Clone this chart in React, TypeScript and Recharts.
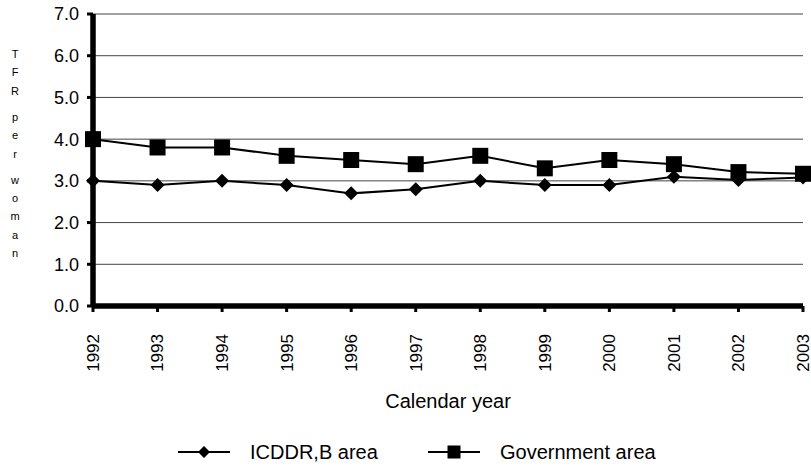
import React from 'react';
import { LineChart, Line, XAxis, YAxis, CartesianGrid, Legend, ReferenceLine } from 'recharts';

const YEARS = ['1992', '1993', '1994', '1995', '1996', '1997', '1998', '1999', '2000', '2001', '2002', '2003'];
const ICDDRB = [3.0, 2.9, 3.0, 2.9, 2.7, 2.8, 3.0, 2.9, 2.9, 3.1, 3.02, 3.08];
const GOVT = [4.0, 3.8, 3.8, 3.6, 3.5, 3.4, 3.6, 3.3, 3.5, 3.4, 3.21, 3.17];
const Y_TICKS = [0, 1, 2, 3, 4, 5, 6, 7];
const Y_LABEL = 'TFR per woman';

const FONT = '"Liberation Sans", Arial, sans-serif';

const data = YEARS.map((year, i) => ({ year, icddrb: ICDDRB[i], govt: GOVT[i] }));

function Diamond({ cx, cy, r = 7 }: { cx: number; cy: number; r?: number }) {
  return <path d={`M${cx},${cy - r}L${cx + r},${cy}L${cx},${cy + r}L${cx - r},${cy}Z`} fill="#000" />;
}

function Square({ cx, cy, s = 16 }: { cx: number; cy: number; s?: number }) {
  return <rect x={cx - s / 2} y={cy - s / 2} width={s} height={s} fill="#000" />;
}

function XTick({ x, y, payload }: any) {
  return (
    <text
      x={x}
      y={y + 20}
      transform={`rotate(-90, ${x}, ${y + 20})`}
      textAnchor="end"
      dy="0.35em"
      fontSize={17}
      fontFamily={FONT}
      fill="#000"
    >
      {payload.value}
    </text>
  );
}

// stacked letters, like the original's vertical axis title
function StackedLabel() {
  let y = 58;
  const spans: React.ReactNode[] = [];
  Y_LABEL.split('').forEach((ch, i) => {
    if (ch === ' ') {
      y += 8;
      return;
    }
    spans.push(
      <text key={i} x={15} y={y} textAnchor="middle" fontSize={11} fontFamily={FONT} fill="#000">
        {ch}
      </text>
    );
    y += 18.3;
  });
  return <g>{spans}</g>;
}

function LegendContent({ payload }: any) {
  const slot: Record<string, number> = { icddrb: 178, govt: 428 };
  return (
    <svg width={811} height={40} style={{ display: 'block' }}>
      {(payload || []).map((p: any) => {
        const x0 = slot[p.dataKey];
        const cy = 25;
        return (
          <g key={p.dataKey}>
            <line x1={x0} x2={x0 + 52} y1={cy} y2={cy} stroke="#000" strokeWidth={2} />
            {p.dataKey === 'icddrb' ? <Diamond cx={x0 + 26} cy={cy} r={6} /> : <Square cx={x0 + 26} cy={cy} s={13} />}
            <text x={x0 + 72} y={cy} dy="0.35em" fontSize={20} fontFamily={FONT} fill="#000">
              {p.value}
            </text>
          </g>
        );
      })}
    </svg>
  );
}

export default function App() {
  return (
    <div style={{ position: 'absolute', left: 0, top: 0, width: 811, height: 467, background: '#fff' }}>
      <LineChart width={811} height={467} data={data} margin={{ top: 14, right: 8, left: 0, bottom: 0 }}>
        <CartesianGrid vertical={false} stroke="#444" strokeWidth={1} />
        <XAxis
          dataKey="year"
          height={121}
          interval={0}
          axisLine={{ stroke: '#000', strokeWidth: 5 }}
          tickLine={{ stroke: '#000', strokeWidth: 3 }}
          tickSize={6}
          tick={<XTick />}
          label={{ value: 'Calendar year', position: 'insideBottom', offset: 19, fontSize: 20, fontFamily: FONT, fill: '#000' }}
        />
        <YAxis
          width={93}
          domain={[0, 7]}
          ticks={Y_TICKS}
          interval={0}
          axisLine={{ stroke: '#000', strokeWidth: 5 }}
          tickLine={{ stroke: '#000', strokeWidth: 3 }}
          tickSize={6}
          tickMargin={8}
          tickFormatter={(v: number) => v.toFixed(1)}
          tick={{ fontSize: 18, fontFamily: FONT, fill: '#000' }}
          label={<StackedLabel />}
        />
        <ReferenceLine y={0} stroke="#000" strokeWidth={5} ifOverflow="visible" />
        <ReferenceLine x={YEARS[0]} stroke="#000" strokeWidth={5} ifOverflow="visible" />
        <Legend verticalAlign="bottom" height={40} content={<LegendContent />} />
        <Line
          dataKey="icddrb"
          name="ICDDR,B area"
          stroke="#000"
          strokeWidth={2}
          isAnimationActive={false}
          dot={(p: any) => <Diamond key={`d${p.index}`} cx={p.cx} cy={p.cy} />}
        />
        <Line
          dataKey="govt"
          name="Government area"
          stroke="#000"
          strokeWidth={2}
          isAnimationActive={false}
          dot={(p: any) => <Square key={`s${p.index}`} cx={p.cx} cy={p.cy} />}
        />
      </LineChart>
    </div>
  );
}
